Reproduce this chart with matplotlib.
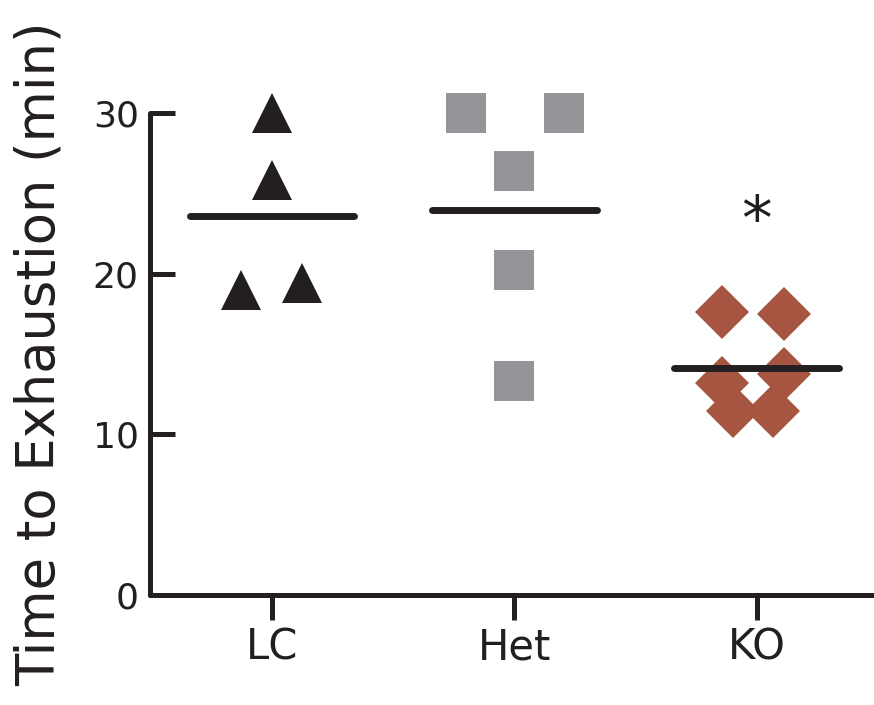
import numpy as np
import matplotlib
matplotlib.use("Agg")
from matplotlib import pyplot as plt

groups = ["LC", "Het", "KO"]

lc_vals = [30.0, 25.8, 19.0, 19.45]
lc_jitter = [0.0, 0.0, -0.128, 0.124]

het_vals = [30.0, 30.0, 26.4, 20.2, 13.3]
het_jitter = [-0.2, 0.206, 0.0, 0.0, 0.0]

ko_vals = [17.6, 17.5, 13.2, 13.75, 11.45, 11.45]
ko_jitter = [-0.144, 0.111, -0.144, 0.111, -0.1, 0.066]

yticks = [0, 10, 20, 30]

ink = "#231f20"
series = [
    (lc_vals, lc_jitter, "^", ink, 29.5),
    (het_vals, het_jitter, "s", "#939598", 29.5),
    (ko_vals, ko_jitter, "D", "#a65640", 27),
]

fig = plt.figure(figsize=(8.74, 7.05), dpi=100)
ax = fig.add_axes([0.1716, 0.156, 0.8284, 0.6837])

for i, (vals, jit, mk, col, ms) in enumerate(series):
    xs = i + np.array(jit)
    ax.plot(xs, vals, linestyle="none", marker=mk, color=col, markersize=ms,
            markeredgewidth=0, clip_on=False, zorder=2)
    m = np.mean(vals)
    ax.plot([i - 0.34, i + 0.34], [m, m], color=ink, lw=5,
            solid_capstyle="round", zorder=3)

ax.text(2, 23.2, "*", ha="center", va="center", fontsize=44, color=ink)

ax.set_xlim(-0.503, 2.483)
ax.set_ylim(0, 30)
ax.set_xticks(range(len(groups)))
ax.set_xticklabels(groups)
ax.set_yticks(yticks)

for s in ["top", "right"]:
    ax.spines[s].set_visible(False)
for s in ["left", "bottom"]:
    ax.spines[s].set_linewidth(3.6)
    ax.spines[s].set_color(ink)
    ax.spines[s].set_capstyle("round")

ax.tick_params(axis="y", direction="in", length=18, width=3.6, color=ink,
               labelsize=26, labelcolor=ink, pad=8)
ax.tick_params(axis="x", direction="out", length=18, width=3.6, color=ink,
               labelsize=30, labelcolor=ink, pad=5)

ax.set_ylabel("Time to Exhaustion (min)", fontsize=38, color=ink,
              va="center", ha="center")
ax.yaxis.set_label_coords(-0.152, 0.5)

fig.savefig("out.png", dpi=100)
